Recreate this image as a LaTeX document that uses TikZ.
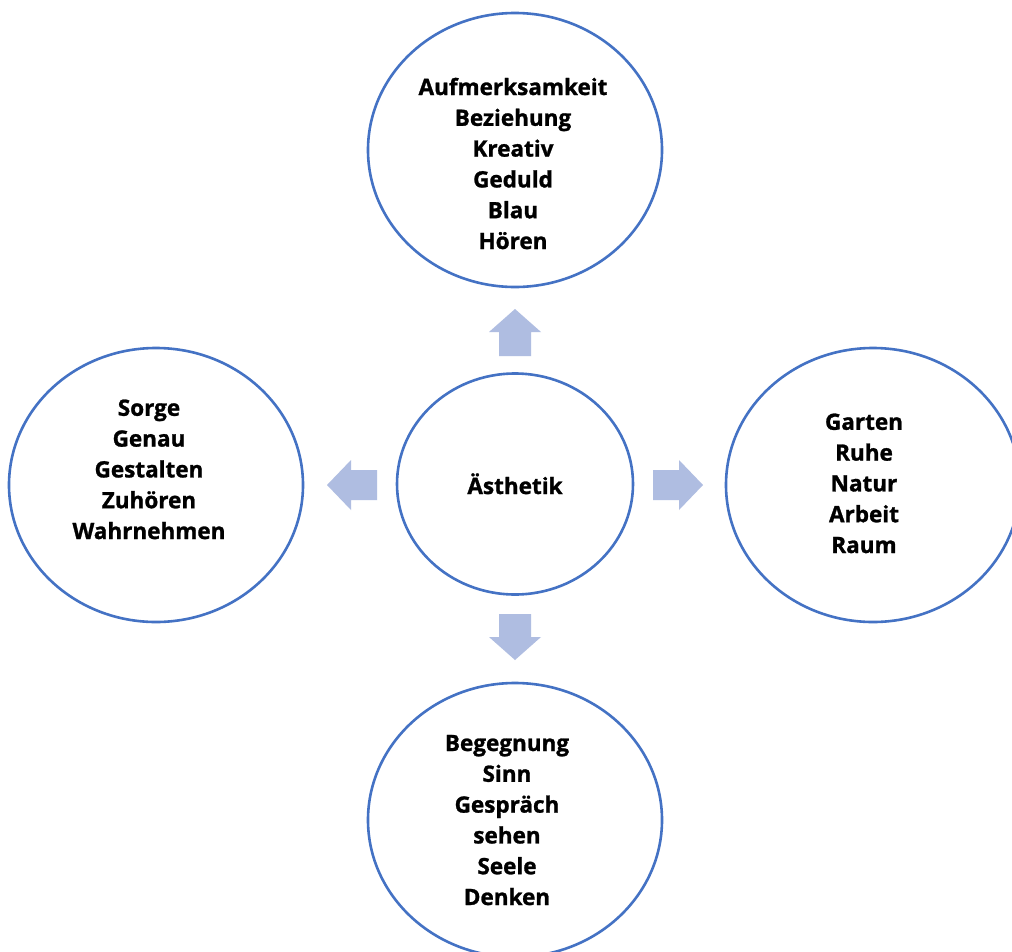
\documentclass[tikz,border=0pt]{standalone}
\usepackage{fontspec}
\setmainfont{Open Sans}[BoldFeatures={FakeBold=1.2}]
\usetikzlibrary{shapes.geometric}
\definecolor{ringblue}{RGB}{68,114,196}
\definecolor{arrowfill}{RGB}{175,189,225}
\tikzset{
  ring/.style={ellipse, draw=ringblue, line width=2.6pt, fill=white, inner sep=0pt},
  bigring/.style={ring, minimum width=294pt, minimum height=274pt},
  smallring/.style={ring, minimum width=236pt, minimum height=221pt},
  words/.style={anchor=base, align=center, inner sep=0pt, text=black,
    font=\fontsize{22.5}{30.8}\selectfont\bfseries},
  blockarrow/.style={fill=arrowfill, draw=none}
}
\begin{document}
\begin{tikzpicture}[x=1pt, y=-1pt]
\useasboundingbox (0,0) rectangle (1012,951);
\clip (0,0) rectangle (1012,951);
\fill[white] (0,0) rectangle (1012,951);

% circles
\node[bigring] (top) at (515,150) {};
\node[bigring] (left) at (156,485) {};
\node[bigring] (right) at (873,485) {};
\node[bigring] (bottom) at (515,820) {};
\node[smallring] (center) at (515,484) {};

% texts (anchor at baseline of last line)
\node[words] (toptext) at (513,249) {Aufmerksamkeit\\Beziehung\\Kreativ\\Geduld\\Blau\\Hören};
\node[words] (lefttext) at (149,539) {Sorge\\Genau\\Gestalten\\Zuhören\\Wahrnehmen};
\node[words] (righttext) at (864,553) {Garten\\Ruhe\\Natur\\Arbeit\\Raum};
\node[words] (bottomtext) at (507,905) {Begegnung\\Sinn\\Gespräch\\sehen\\Seele\\Denken};
\node[words] (centertext) at (515,494) {Ästhetik};

% block arrows
\fill[blockarrow] (515,309) -- (541,332) -- (531,332) -- (531,356) -- (499,356) -- (499,332) -- (489,332) -- cycle;
\fill[blockarrow] (515,660) -- (541,637) -- (531,637) -- (531,614) -- (499,614) -- (499,637) -- (489,637) -- cycle;
\fill[blockarrow] (703,485) -- (679,460) -- (679,470) -- (653,470) -- (653,500) -- (679,500) -- (679,510) -- cycle;
\fill[blockarrow] (327,485) -- (351,460) -- (351,470) -- (377,470) -- (377,500) -- (351,500) -- (351,510) -- cycle;
\end{tikzpicture}
\end{document}
